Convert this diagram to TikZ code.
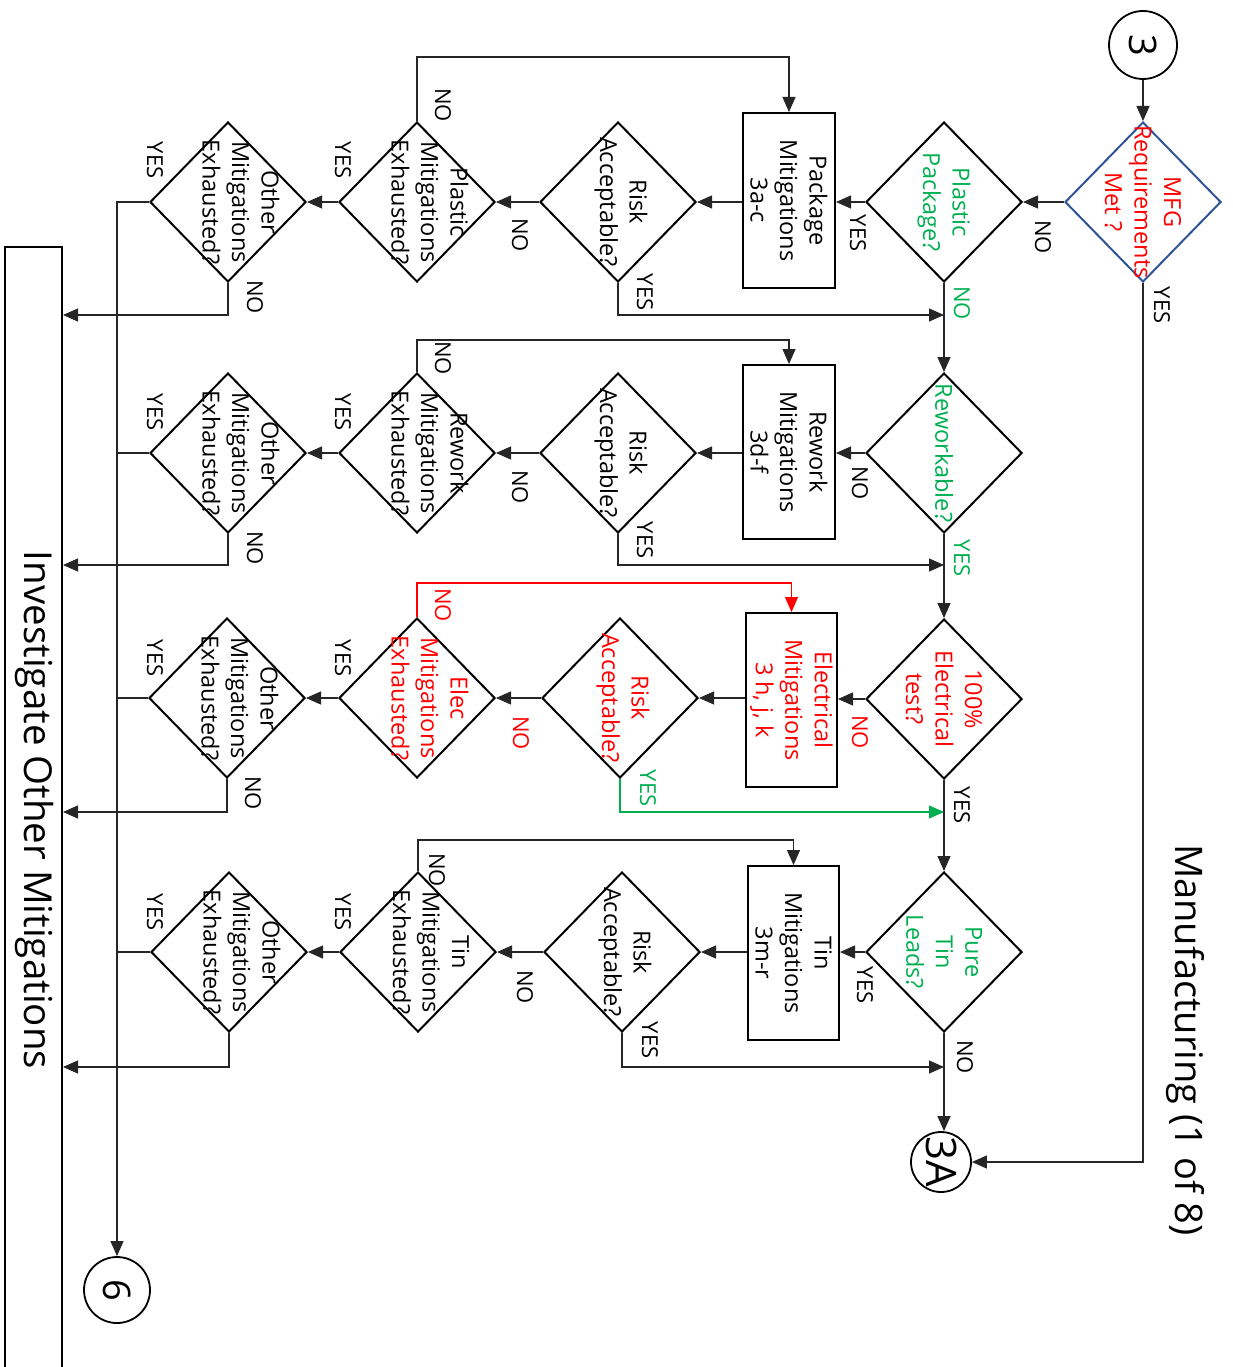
\documentclass[tikz,border=0pt]{standalone}
\usepackage{fontspec}
\setmainfont{Open Sans}
\usetikzlibrary{shapes.geometric,arrows.meta}
\definecolor{okgreen}{RGB}{0,176,80}
\definecolor{okred}{RGB}{255,0,0}
\definecolor{mfgblue}{RGB}{47,85,151}
\begin{document}
\begin{tikzpicture}[x=1pt,y=-1pt,
 dia/.style={diamond, draw=black, line width=2pt, minimum width=156pt, minimum height=160pt, inner sep=0pt},
 dtxt/.style={rotate=-90, align=center, font=\fontsize{23.5}{29.5}\selectfont, inner sep=0pt},
 mbox/.style={draw=black, line width=2pt, minimum width=92pt, minimum height=175pt, inner sep=0pt},
 conn/.style={draw=black!85, line width=1.2pt},
 arr/.style={conn, -{Triangle[length=15pt,width=13pt]}},
 lbl/.style={rotate=-90, font=\fontsize{22}{24}\selectfont, inner sep=0pt},
 circ/.style={circle, draw=black, line width=1.8pt, inner sep=0pt},
 ctxt/.style={rotate=-90, inner sep=0pt},
]
\useasboundingbox (0,0) rectangle (1233,1367);

% title
\node[rotate=-90, font=\fontsize{38}{38}\selectfont] (title) at (1185,1040) {Manufacturing (1 of 8)};

% circles
\node[circ, minimum size=68pt] (c3) at (1143,45) {};
\node[ctxt, font=\fontsize{38}{38}\selectfont] at (c3) {3};
\node[circ, minimum size=60pt] (c3a) at (941,1162) {};
\node[ctxt, font=\fontsize{42}{42}\selectfont] at (c3a) {3A};
\node[circ, minimum size=66pt] (c6) at (117,1290) {};
\node[ctxt, font=\fontsize{38}{38}\selectfont] at (c6) {6};

% investigate box
\node[draw=black, line width=2pt, minimum width=57pt, minimum height=1130pt, inner sep=0pt] (inv) at (33.5,812) {};
\node[rotate=-90, font=\fontsize{38.5}{38.5}\selectfont, inner sep=0pt] at (35,810) {Investigate Other Mitigations};

% row 1
\node[dia, draw=mfgblue] (mfg) at (1143,202) {};
\node[dtxt, text=okred] at (mfg) {MFG\\Requirements\\Met ?};
\node[dia] (pp) at (944,202) {};
\node[dtxt, text=okgreen] at (pp) {Plastic\\Package?};
\node[mbox] (pkg) at (789,200.5) {};
\node[dtxt] at (pkg) {Package\\Mitigations\\3a-c};
\node[dia] (r1) at (618,202) {};
\node[dtxt] at ([xshift=3pt]r1.center) {Risk\\Acceptable?};
\node[dia] (e1) at (417,202) {};
\node[dtxt] at ([xshift=13pt]e1.center) {Plastic\\Mitigations\\Exhausted?};
\node[dia] (o1) at (228,202) {};
\node[dtxt] at ([xshift=13pt]o1.center) {Other\\Mitigations\\Exhausted?};

% row 2
\node[dia] (rw) at (944,453) {};
\node[dtxt, text=okgreen] at (rw) {Reworkable?};
\node[mbox, minimum height=174pt] (rwb) at (789,452) {};
\node[dtxt] at (rwb) {Rework\\Mitigations\\3d-f};
\node[dia] (r2) at (618,453) {};
\node[dtxt] at ([xshift=3pt]r2.center) {Risk\\Acceptable?};
\node[dia] (e2) at (417,453) {};
\node[dtxt] at ([xshift=13pt]e2.center) {Rework\\Mitigations\\Exhausted?};
\node[dia] (o2) at (228,453) {};
\node[dtxt] at ([xshift=13pt]o2.center) {Other\\Mitigations\\Exhausted?};

% row 3
\node[dia] (el) at (944,699) {};
\node[dtxt, text=okred] at (el) {100\%\\Electrical\\test?};
\node[mbox, minimum width=91pt, minimum height=174pt] (elb) at (791.5,700) {};
\node[dtxt, text=okred] at (elb) {Electrical\\Mitigations\\3 h, j, k};
\node[dia] (r3) at (620,698) {};
\node[dtxt, text=okred] at ([xshift=3pt]r3.center) {Risk\\Acceptable?};
\node[dia] (e3) at (417,698) {};
\node[dtxt, text=okred] at ([xshift=13pt]e3.center) {Elec\\Mitigations\\Exhausted?};
\node[dia] (o3) at (227,698) {};
\node[dtxt] at ([xshift=13pt]o3.center) {Other\\Mitigations\\Exhausted?};

% row 4
\node[dia] (pt) at (944,952) {};
\node[dtxt, text=okgreen] at (pt) {Pure\\Tin\\Leads?};
\node[mbox, minimum width=91pt, minimum height=174pt] (tnb) at (793.5,953) {};
\node[dtxt] at (tnb) {Tin\\Mitigations\\3m-r};
\node[dia] (r4) at (622,952) {};
\node[dtxt] at ([xshift=3pt]r4.center) {Risk\\Acceptable?};
\node[dia] (e4) at (418,952) {};
\node[dtxt] at ([xshift=13pt]e4.center) {Tin\\Mitigations\\Exhausted?};
\node[dia] (o4) at (229,952) {};
\node[dtxt] at ([xshift=13pt]o4.center) {Other\\Mitigations\\Exhausted?};

% junction coordinates
\coordinate (j1) at (944,315);
\coordinate (j2) at (944,565);
\coordinate (j3) at (944,812);
\coordinate (j4) at (944,1067);
\coordinate (f1) at (0,57);
\coordinate (f2) at (0,340);
\coordinate (f3) at (0,583);
\coordinate (f4) at (0,840);

% main spine
\draw[arr] (c3.south) -- (mfg.north);
\draw[arr] (mfg.west) -- (pp.east);
\draw[arr] (mfg.south) |- (c3a.east);
\draw[arr] (pp.south) -- (rw.north);
\draw[arr] (rw.south) -- (el.north);
\draw[arr] (el.south) -- (pt.north);
\draw[arr] (pt.south) -- (pt.south |- c3a.north);

% row 1 connectors
\draw[arr] (pp.west) -- (pp.west -| pkg.east);
\draw[arr] (pkg.west |- r1.east) -- (r1.east);
\draw[arr] (r1.south) |- (j1);
\draw[arr] (r1.west) -- (e1.east);
\draw[arr] (e1.north) -- (e1.north |- f1) -| (pkg.north);
\draw[arr] (e1.west) -- (o1.east);
\draw[arr] (o1.west) -| (c6.north);
\draw[arr] (o1.south) |- (inv.east |- j1);

% row 2 connectors
\draw[arr] (rw.west) -- (rw.west -| rwb.east);
\draw[arr] (rwb.west |- r2.east) -- (r2.east);
\draw[arr] (r2.south) |- (j2);
\draw[arr] (r2.west) -- (e2.east);
\draw[arr] (e2.north) -- (e2.north |- f2) -| (rwb.north);
\draw[arr] (e2.west) -- (o2.east);
\draw[conn] (o2.west) -- (o2.west -| c6.north);
\draw[arr] (o2.south) |- (inv.east |- j2);

% row 3 connectors
\draw[arr] (el.west) -- (el.west -| elb.east);
\draw[arr] (elb.west |- r3.east) -- (r3.east);
\draw[arr, draw=okgreen] (r3.south) |- (j3);
\draw[arr] (r3.west) -- (e3.east);
\draw[arr, draw=okred] (e3.north) -- (e3.north |- f3) -| (elb.north);
\draw[arr] (e3.west) -- (o3.east);
\draw[conn] (o3.west) -- (o3.west -| c6.north);
\draw[arr] (o3.south) |- (inv.east |- j3);

% row 4 connectors
\draw[arr] (pt.west) -- (pt.west -| tnb.east);
\draw[arr] (tnb.west |- r4.east) -- (r4.east);
\draw[arr] (r4.south) |- (j4);
\draw[arr] (r4.west) -- (e4.east);
\draw[arr] (e4.north) -- (e4.north |- f4) -| (tnb.north);
\draw[arr] (e4.west) -- (o4.east);
\draw[conn] (o4.west) -- (o4.west -| c6.north);
\draw[arr] (o4.south) |- (inv.east |- j4);

% labels row 1
\node[lbl] at (1043,237) {NO};
\node[lbl] at (1162,305) {YES};
\node[lbl] at (858,233) {YES};
\node[lbl, text=okgreen] at (962,303) {NO};
\node[lbl] at (645,292) {YES};
\node[lbl] at (520,235) {NO};
\node[lbl] at (443,105) {NO};
\node[lbl] at (343,160) {YES};
\node[lbl] at (155,160) {YES};
\node[lbl] at (255,297) {NO};
% labels row 2
\node[lbl] at (860,483) {NO};
\node[lbl, text=okgreen] at (962,558) {YES};
\node[lbl] at (645,540) {YES};
\node[lbl] at (520,487) {NO};
\node[lbl] at (443,358) {NO};
\node[lbl] at (343,412) {YES};
\node[lbl] at (155,412) {YES};
\node[lbl] at (255,548) {NO};
% labels row 3
\node[lbl, text=okred] at (860,732) {NO};
\node[lbl] at (962,805) {YES};
\node[lbl, text=okgreen] at (648,788) {YES};
\node[lbl, text=okred] at (521,733) {NO};
\node[lbl, text=okred] at (443,605) {NO};
\node[lbl] at (343,658) {YES};
\node[lbl] at (155,658) {YES};
\node[lbl] at (253,793) {NO};
% labels row 4
\node[lbl] at (865,985) {YES};
\node[lbl] at (965,1057) {NO};
\node[lbl] at (650,1040) {YES};
\node[lbl] at (525,987) {NO};
\node[lbl] at (437,870) {NO};
\node[lbl] at (343,912) {YES};
\node[lbl] at (155,912) {YES};
\end{tikzpicture}
\end{document}
